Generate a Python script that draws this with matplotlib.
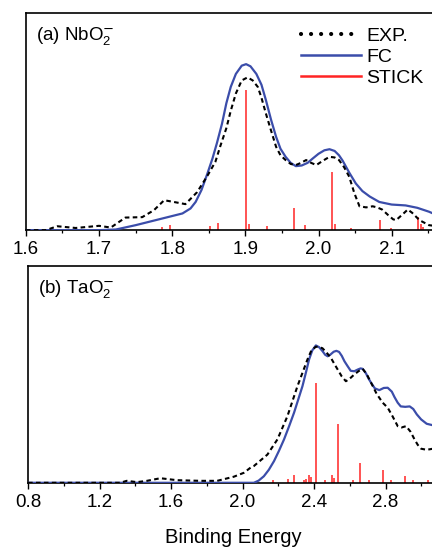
import matplotlib
matplotlib.use('Agg')
import matplotlib.pyplot as plt
from matplotlib.lines import Line2D
from matplotlib.ticker import MultipleLocator

plt.rcParams['font.family'] = ['Liberation Sans', 'DejaVu Sans']
plt.rcParams['mathtext.fontset'] = 'custom'
plt.rcParams['mathtext.rm'] = 'Liberation Sans'
plt.rcParams['mathtext.it'] = 'Liberation Sans:italic'

# (a) NbO2- : experimental spectrum
nb_exp_x = [1.60, 1.627, 1.643, 1.668, 1.70, 1.716, 1.736, 1.759, 1.775, 1.789, 1.802,
            1.818, 1.834, 1.848, 1.859, 1.866, 1.874, 1.880, 1.887, 1.895, 1.903,
            1.910, 1.917, 1.922, 1.928, 1.935, 1.942, 1.948, 1.955, 1.962, 1.969,
            1.976, 1.983, 1.990, 1.997, 2.006, 2.015, 2.022, 2.028, 2.035, 2.042,
            2.049, 2.056, 2.065, 2.074, 2.080, 2.087, 2.095, 2.102, 2.106, 2.114,
            2.122, 2.128, 2.138, 2.151, 2.17, 2.20]
nb_exp_y = [0.0, 0.0, 0.018, 0.010, 0.020, 0.012, 0.058, 0.060, 0.092, 0.138, 0.130,
            0.120, 0.175, 0.250, 0.315, 0.390, 0.470, 0.550, 0.630, 0.690, 0.704,
            0.690, 0.660, 0.610, 0.538, 0.460, 0.384, 0.345, 0.323, 0.305, 0.300,
            0.310, 0.323, 0.310, 0.300, 0.320, 0.338, 0.335, 0.323, 0.290, 0.246,
            0.170, 0.110, 0.105, 0.110, 0.105, 0.095, 0.070, 0.050, 0.046, 0.070,
            0.095, 0.080, 0.046, 0.023, 0.015, 0.010]

# (a) NbO2- : Franck-Condon simulation
nb_fc_x = [1.60, 1.70, 1.723, 1.750, 1.782, 1.814, 1.825, 1.832, 1.840, 1.848, 1.855,
           1.861, 1.868, 1.874, 1.880, 1.887, 1.895, 1.901, 1.907, 1.915, 1.922,
           1.928, 1.935, 1.942, 1.948, 1.955, 1.962, 1.969, 1.977, 1.985, 1.992,
           2.000, 2.008, 2.015, 2.022, 2.028, 2.033, 2.042, 2.051, 2.060, 2.070,
           2.083, 2.100, 2.119, 2.135, 2.151, 2.175, 2.20]
nb_fc_y = [0.0, 0.0, 0.003, 0.023, 0.050, 0.077, 0.100, 0.130, 0.185, 0.260, 0.330,
           0.400, 0.490, 0.585, 0.660, 0.720, 0.758, 0.765, 0.755, 0.720, 0.670,
           0.600, 0.510, 0.430, 0.375, 0.338, 0.310, 0.295, 0.298, 0.310, 0.330,
           0.352, 0.368, 0.373, 0.365, 0.345, 0.320, 0.265, 0.215, 0.180, 0.155,
           0.130, 0.118, 0.114, 0.103, 0.085, 0.050, 0.025]

# (a) NbO2- : stick spectrum
nb_stick_x = [1.786, 1.797, 1.852, 1.863, 1.9006, 1.905, 1.929, 1.967, 1.981, 2.018,
              2.023, 2.045, 2.084, 2.099, 2.136, 2.140, 2.143]
nb_stick_y = [0.015, 0.023, 0.018, 0.034, 0.648, 0.030, 0.020, 0.103, 0.025, 0.266,
              0.028, 0.010, 0.046, 0.010, 0.061, 0.030, 0.015]

# (b) TaO2- : experimental spectrum
ta_exp_x = [0.80, 1.315, 1.352, 1.409, 1.465, 1.54, 1.633, 1.764, 1.858, 1.951, 2.007,
            2.045, 2.063, 2.139, 2.195, 2.251, 2.307, 2.363, 2.385, 2.41, 2.43,
            2.447, 2.47, 2.494, 2.512, 2.532, 2.555, 2.578, 2.60, 2.625, 2.65,
            2.672, 2.695, 2.719, 2.75, 2.784, 2.812, 2.84, 2.868, 2.89, 2.915,
            2.94, 2.962, 2.98, 2.999, 3.03, 3.065, 3.20]
ta_exp_y = [0.0, 0.0, 0.009, 0.003, 0.009, 0.021, 0.012, 0.009, 0.009, 0.028, 0.046,
            0.070, 0.077, 0.130, 0.200, 0.307, 0.445, 0.568, 0.610, 0.627, 0.625,
            0.620, 0.600, 0.576, 0.550, 0.522, 0.490, 0.468, 0.480, 0.499, 0.515,
            0.525, 0.500, 0.461, 0.410, 0.369, 0.346, 0.305, 0.261, 0.255, 0.261,
            0.235, 0.200, 0.175, 0.157, 0.152, 0.157, 0.120]

# (b) TaO2- : Franck-Condon simulation
ta_fc_x = [0.80, 2.063, 2.09, 2.119, 2.147, 2.176, 2.204, 2.232, 2.26, 2.288, 2.31,
           2.335, 2.355, 2.372, 2.39, 2.41, 2.428, 2.447, 2.462, 2.476, 2.49,
           2.51, 2.525, 2.54, 2.555, 2.57, 2.588, 2.605, 2.625, 2.645, 2.66,
           2.672, 2.69, 2.705, 2.719, 2.74, 2.765, 2.79, 2.812, 2.835, 2.85,
           2.868, 2.885, 2.91, 2.935, 2.955, 2.975, 2.999, 3.03, 3.065, 3.10, 3.20]
ta_fc_y = [0.0, 0.0, 0.010, 0.030, 0.060, 0.100, 0.148, 0.200, 0.260, 0.323, 0.380,
           0.445, 0.510, 0.568, 0.610, 0.633, 0.625, 0.607, 0.590, 0.583, 0.590,
           0.604, 0.608, 0.603, 0.585, 0.560, 0.537, 0.516, 0.514, 0.522, 0.527,
           0.525, 0.505, 0.480, 0.461, 0.435, 0.427, 0.437, 0.438, 0.420, 0.395,
           0.369, 0.352, 0.350, 0.352, 0.340, 0.315, 0.292, 0.272, 0.265, 0.250, 0.220]

# (b) TaO2- : stick spectrum
ta_stick_x = [2.172, 2.254, 2.288, 2.345, 2.353, 2.372, 2.381, 2.41, 2.461, 2.498,
              2.509, 2.535, 2.62, 2.659, 2.706, 2.784, 2.831, 2.909, 2.956, 3.036]
ta_stick_y = [0.012, 0.018, 0.038, 0.015, 0.018, 0.034, 0.028, 0.461, 0.011, 0.034,
              0.022, 0.273, 0.011, 0.092, 0.011, 0.061, 0.012, 0.031, 0.011, 0.011]

# tick labels that fall inside the (cropped) picture
nb_ticks = [1.6, 1.7, 1.8, 1.9, 2.0, 2.1]
ta_ticks = [0.8, 1.2, 1.6, 2.0, 2.4, 2.8]

EXP_COLOR = 'black'
FC_COLOR = '#3B4DAA'
STICK_COLOR = '#FF2424'


def draw_panel(ax, exp_x, exp_y, fc_x, fc_y, st_x, st_y, label):
    ax.vlines(st_x, 0, st_y, color=STICK_COLOR, lw=1.1, zorder=2)
    ax.plot(fc_x, fc_y, color=FC_COLOR, lw=1.6, zorder=3)
    ax.plot(exp_x, exp_y, color=EXP_COLOR, lw=1.5, ls=(0, (2.2, 1.6)), zorder=4)
    ax.set_ylim(0, 1)
    ax.set_yticks([])
    for s in ax.spines.values():
        s.set_linewidth(1.2)
    ax.tick_params(axis='x', direction='out', length=4, width=1.0,
                   labelsize=13.5, pad=4)
    ax.tick_params(axis='x', which='minor', direction='out', length=2.5, width=0.9)
    ax.text(0.022, 0.945, label, transform=ax.transAxes, ha='left', va='top',
            fontsize=13.5)


fig = plt.figure(figsize=(4.32, 5.48), dpi=100)

# axes deliberately wider than the figure: the right edge is cut off
ax1 = fig.add_axes([0.060, 0.580, 1.016, 0.396])
draw_panel(ax1, nb_exp_x, nb_exp_y, nb_fc_x, nb_fc_y, nb_stick_x, nb_stick_y,
           r'(a) NbO$_2^{\mathsf{-}}$')
ax1.set_xlim(1.6, 2.2)
ax1.set_xticks(nb_ticks)
ax1.xaxis.set_minor_locator(MultipleLocator(0.05))
ax1.xaxis.set_major_formatter(plt.FormatStrFormatter('%.1f'))

# legend proxies
h_exp = Line2D([], [], color=EXP_COLOR, lw=3, ls=(0, (0.01, 2.4)),
               dash_capstyle='round')
h_fc = Line2D([], [], color=FC_COLOR, lw=1.8)
h_st = Line2D([], [], color=STICK_COLOR, lw=1.8)
fig.legend([h_exp, h_fc, h_st], ['EXP.', 'FC', 'STICK'],
           loc='upper left', bbox_to_anchor=(0.697, 0.950), frameon=False,
           fontsize=14, handlelength=3.1, handletextpad=0.25,
           labelspacing=0.17, borderpad=0, borderaxespad=0)

ax2 = fig.add_axes([0.065, 0.119, 0.993, 0.396])
draw_panel(ax2, ta_exp_x, ta_exp_y, ta_fc_x, ta_fc_y, ta_stick_x, ta_stick_y,
           r'(b) TaO$_2^{\mathsf{-}}$')
ax2.set_xlim(0.8, 3.2)
ax2.set_xticks(ta_ticks)
ax2.xaxis.set_minor_locator(MultipleLocator(0.2))
ax2.xaxis.set_major_formatter(plt.FormatStrFormatter('%.1f'))

fig.text(0.539, 0.020, 'Binding Energy', ha='center', va='center', fontsize=14.5)

fig.savefig('out.png', dpi=100)
